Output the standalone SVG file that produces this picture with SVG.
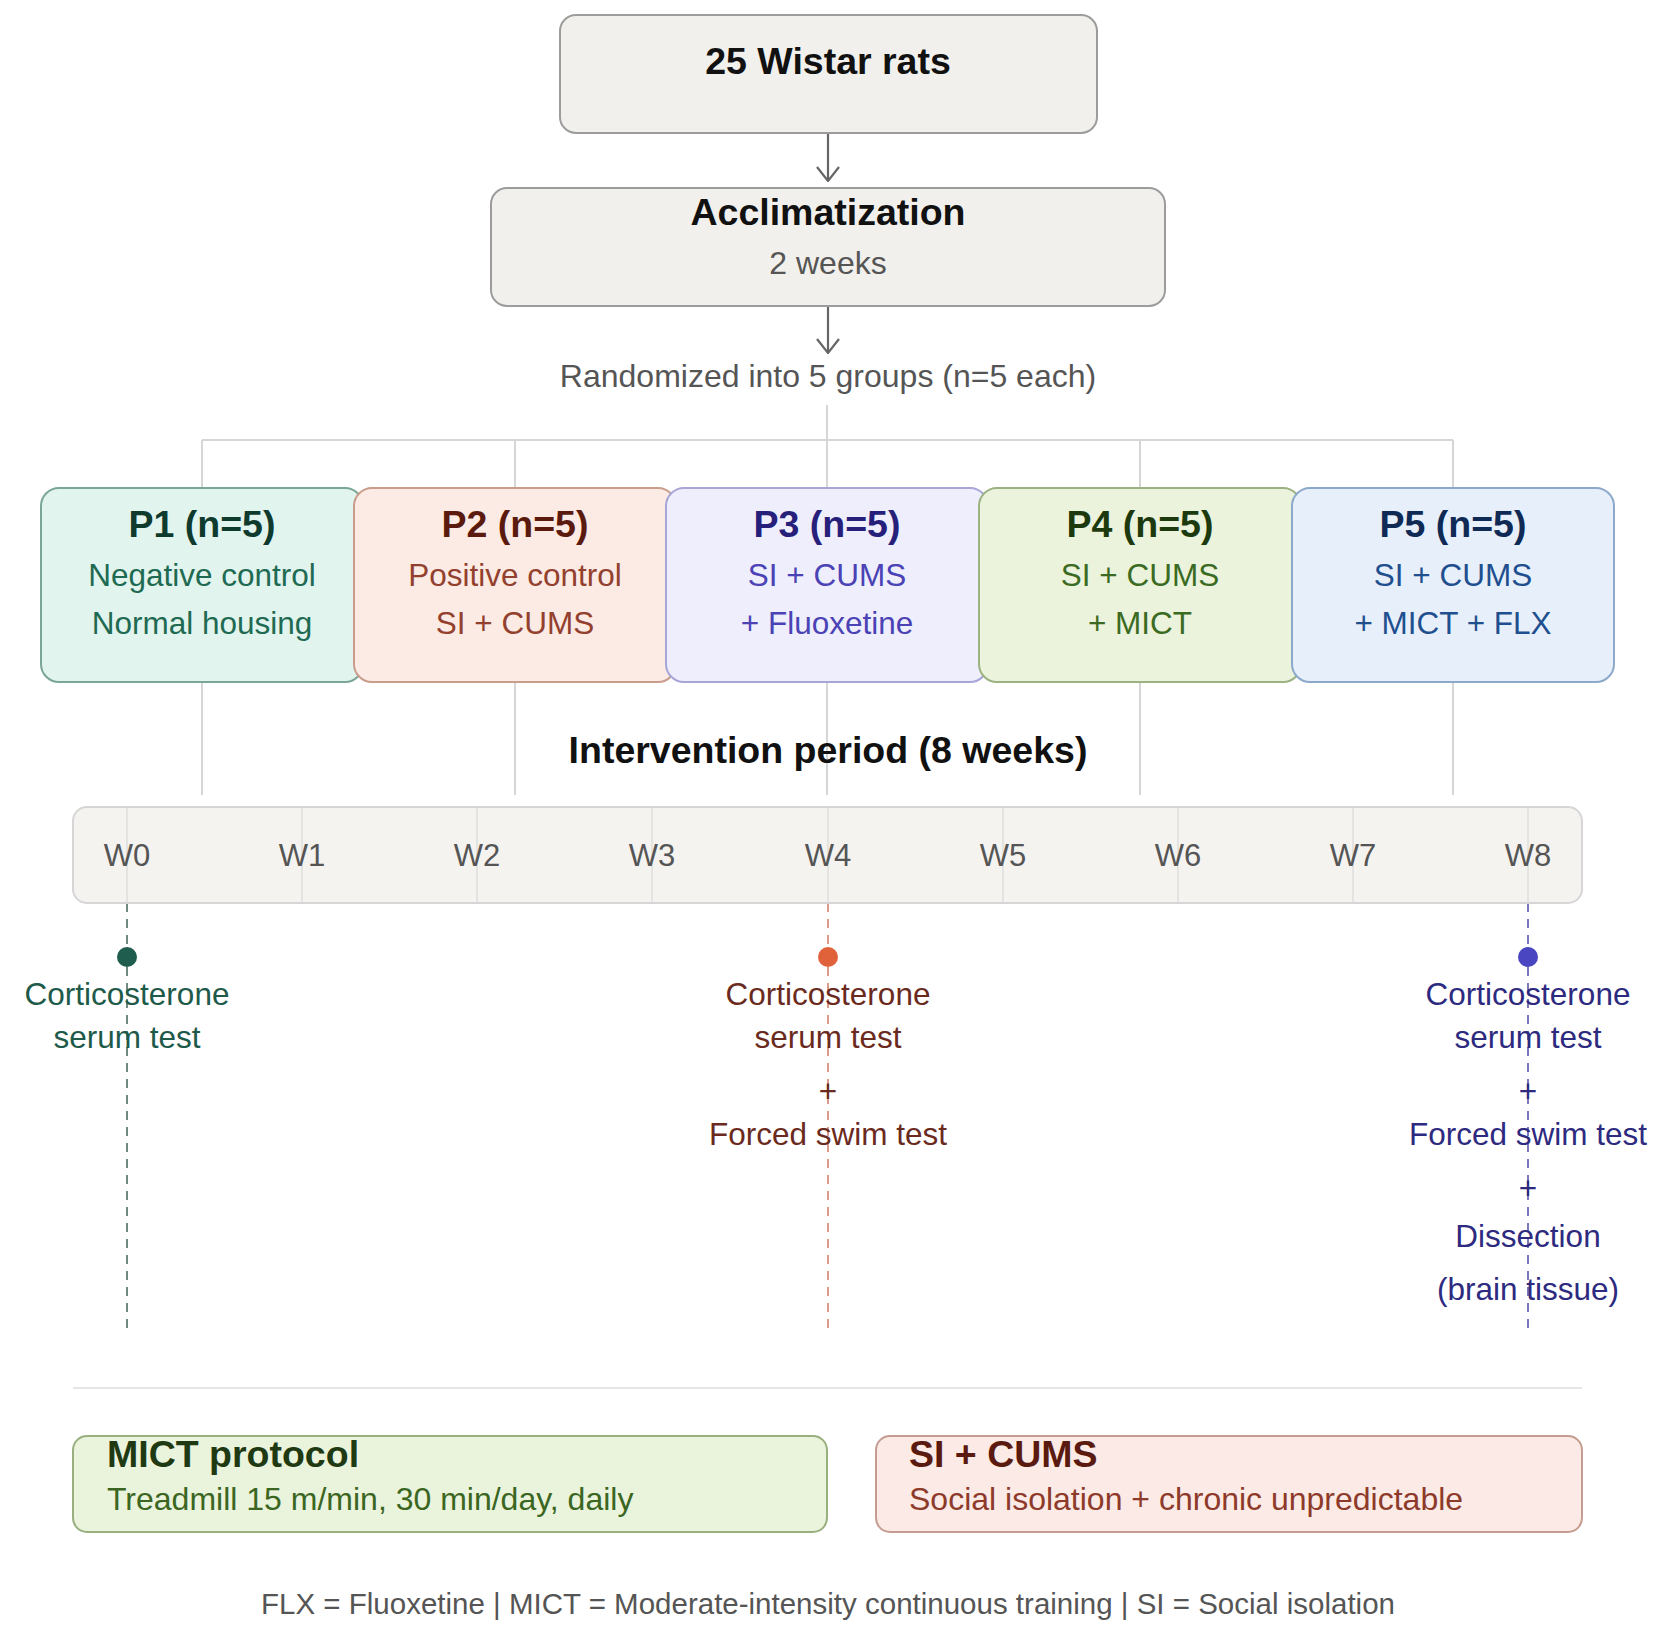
<svg xmlns="http://www.w3.org/2000/svg" width="1665" height="1629" viewBox="0 0 1665 1629">
<defs>
<style>
text{font-family:"Liberation Sans",Arial,sans-serif;}
.b{font-weight:bold;}
.c{text-anchor:middle;}
.h1{font-size:37.5px;font-weight:bold;fill:#111;}
.r{font-size:32px;}
.gray{fill:#555;}
.conn{stroke:#d6d6d6;stroke-width:2;fill:none;}
.arr{stroke:#666;stroke-width:2.2;fill:none;}
.gt{font-size:37.5px;font-weight:bold;text-anchor:middle;}
.gs{font-size:31.5px;text-anchor:middle;}
.tl{font-size:31px;text-anchor:middle;fill:#555;}
.tick{stroke:#dedede;stroke-width:1.5;}
.ev{font-size:31.5px;text-anchor:middle;}
</style>
<marker id="chev" viewBox="0 0 16 24" refX="15" refY="12" markerWidth="16" markerHeight="24" markerUnits="userSpaceOnUse" orient="auto">
<path d="M1,1 L15,12 L1,23" fill="none" stroke="#666" stroke-width="2.2"/>
</marker>
</defs>
<rect width="1665" height="1629" fill="#ffffff"/>

<g id="connectors">
<line class="arr" x1="828" y1="133" x2="828" y2="181" marker-end="url(#chev)"/>
<line class="arr" x1="828" y1="306" x2="828" y2="353" marker-end="url(#chev)"/>
<line class="conn" x1="827" y1="405" x2="827" y2="440"/>
<line class="conn" x1="202" y1="440" x2="1453" y2="440"/>
<line class="conn" x1="202" y1="440" x2="202" y2="488"/>
<line class="conn" x1="515" y1="440" x2="515" y2="488"/>
<line class="conn" x1="827" y1="440" x2="827" y2="488"/>
<line class="conn" x1="1140" y1="440" x2="1140" y2="488"/>
<line class="conn" x1="1453" y1="440" x2="1453" y2="488"/>
<line class="conn" x1="202" y1="682" x2="202" y2="795"/>
<line class="conn" x1="515" y1="682" x2="515" y2="795"/>
<line class="conn" x1="827" y1="682" x2="827" y2="795"/>
<line class="conn" x1="1140" y1="682" x2="1140" y2="795"/>
<line class="conn" x1="1453" y1="682" x2="1453" y2="795"/>
<line x1="127" y1="903" x2="127" y2="1328" stroke="#6f8a82" stroke-width="2" stroke-dasharray="9 7"/>
<line x1="828" y1="903" x2="828" y2="1328" stroke="#dc9a8c" stroke-width="2" stroke-dasharray="9 7"/>
<line x1="1528" y1="903" x2="1528" y2="1328" stroke="#7a78b8" stroke-width="2" stroke-dasharray="9 7"/>
</g>

<g id="n-start">
<rect x="560" y="15" width="537" height="118" rx="16" fill="#f2f0ec" stroke="#9c9c9c" stroke-width="2"/>
<text class="h1 c" x="828" y="74">25 Wistar rats</text>
</g>

<g id="n-acclim">
<rect x="491" y="188" width="674" height="118" rx="16" fill="#f2f0ec" stroke="#9c9c9c" stroke-width="2"/>
<text class="h1 c" x="828" y="225">Acclimatization</text>
<text class="r c gray" x="828" y="274">2 weeks</text>
</g>

<g id="n-random">
<text class="r c gray" x="828" y="387">Randomized into 5 groups (n=5 each)</text>
</g>

<g id="n-p1">
<rect x="41" y="488" width="322" height="194" rx="18" fill="#e2f4ee" stroke="#7aa696" stroke-width="2"/>
<text class="gt" x="202" y="537" fill="#0e3b2e">P1 (n=5)</text>
<text class="gs" x="202" y="586" fill="#1e6a52">Negative control</text>
<text class="gs" x="202" y="634" fill="#1e6a52">Normal housing</text>
</g>
<g id="n-p2">
<rect x="354" y="488" width="322" height="194" rx="18" fill="#fbebe4" stroke="#c99c8c" stroke-width="2"/>
<text class="gt" x="515" y="537" fill="#5b1a0e">P2 (n=5)</text>
<text class="gs" x="515" y="586" fill="#93402e">Positive control</text>
<text class="gs" x="515" y="634" fill="#93402e">SI + CUMS</text>
</g>
<g id="n-p3">
<rect x="666" y="488" width="322" height="194" rx="18" fill="#eeeefc" stroke="#a8a5d8" stroke-width="2"/>
<text class="gt" x="827" y="537" fill="#27207a">P3 (n=5)</text>
<text class="gs" x="827" y="586" fill="#4b42b5">SI + CUMS</text>
<text class="gs" x="827" y="634" fill="#4b42b5">+ Fluoxetine</text>
</g>
<g id="n-p4">
<rect x="979" y="488" width="322" height="194" rx="18" fill="#ebf3dd" stroke="#9db282" stroke-width="2"/>
<text class="gt" x="1140" y="537" fill="#1d3a0f">P4 (n=5)</text>
<text class="gs" x="1140" y="586" fill="#3b6b22">SI + CUMS</text>
<text class="gs" x="1140" y="634" fill="#3b6b22">+ MICT</text>
</g>
<g id="n-p5">
<rect x="1292" y="488" width="322" height="194" rx="18" fill="#e7f0fa" stroke="#8ca8ca" stroke-width="2"/>
<text class="gt" x="1453" y="537" fill="#0f2a55">P5 (n=5)</text>
<text class="gs" x="1453" y="586" fill="#1f4f8f">SI + CUMS</text>
<text class="gs" x="1453" y="634" fill="#1f4f8f">+ MICT + FLX</text>
</g>

<g id="n-intervention">
<text class="h1 c" x="828" y="763">Intervention period (8 weeks)</text>
</g>

<g id="n-timeline">
<rect x="73" y="807" width="1509" height="96" rx="14" fill="#f4f3f0" stroke="#d6d6d6" stroke-width="2"/>
<line class="tick" x1="127" y1="808" x2="127" y2="902"/>
<line class="tick" x1="302" y1="808" x2="302" y2="902"/>
<line class="tick" x1="477" y1="808" x2="477" y2="902"/>
<line class="tick" x1="652" y1="808" x2="652" y2="902"/>
<line class="tick" x1="828" y1="808" x2="828" y2="902"/>
<line class="tick" x1="1003" y1="808" x2="1003" y2="902"/>
<line class="tick" x1="1178" y1="808" x2="1178" y2="902"/>
<line class="tick" x1="1353" y1="808" x2="1353" y2="902"/>
<line class="tick" x1="1528" y1="808" x2="1528" y2="902"/>
<text class="tl" x="127" y="866">W0</text>
<text class="tl" x="302" y="866">W1</text>
<text class="tl" x="477" y="866">W2</text>
<text class="tl" x="652" y="866">W3</text>
<text class="tl" x="828" y="866">W4</text>
<text class="tl" x="1003" y="866">W5</text>
<text class="tl" x="1178" y="866">W6</text>
<text class="tl" x="1353" y="866">W7</text>
<text class="tl" x="1528" y="866">W8</text>
</g>

<g id="n-w0">
<circle cx="127" cy="957" r="10" fill="#1f5e4e"/>
<text class="ev" x="127" y="1005" fill="#1e5a4a">Corticosterone</text>
<text class="ev" x="127" y="1048" fill="#1e5a4a">serum test</text>
</g>
<g id="n-w4">
<circle cx="828" cy="957" r="10" fill="#e0623a"/>
<text class="ev" x="828" y="1005" fill="#6b2a1e">Corticosterone</text>
<text class="ev" x="828" y="1048" fill="#6b2a1e">serum test</text>
<text class="ev" x="828" y="1102" fill="#6b2a1e">+</text>
<text class="ev" x="828" y="1145" fill="#6b2a1e">Forced swim test</text>
</g>
<g id="n-w8">
<circle cx="1528" cy="957" r="10" fill="#4a45c0"/>
<text class="ev" x="1528" y="1005" fill="#2d2a80">Corticosterone</text>
<text class="ev" x="1528" y="1048" fill="#2d2a80">serum test</text>
<text class="ev" x="1528" y="1102" fill="#2d2a80">+</text>
<text class="ev" x="1528" y="1145" fill="#2d2a80">Forced swim test</text>
<text class="ev" x="1528" y="1199" fill="#2d2a80">+</text>
<text class="ev" x="1528" y="1247" fill="#2d2a80">Dissection</text>
<text class="ev" x="1528" y="1300" fill="#2d2a80">(brain tissue)</text>
</g>

<line x1="73" y1="1388" x2="1582" y2="1388" stroke="#e6e6e6" stroke-width="2"/>

<g id="n-mict">
<rect x="73" y="1436" width="754" height="96" rx="14" fill="#eaf3dc" stroke="#9aaf80" stroke-width="2"/>
<text class="b" x="107" y="1467" font-size="37.5" fill="#1f3a12">MICT protocol</text>
<text x="107" y="1510" font-size="32" fill="#3b6622">Treadmill 15 m/min, 30 min/day, daily</text>
</g>
<g id="n-cums">
<rect x="876" y="1436" width="706" height="96" rx="14" fill="#fbeae5" stroke="#c59c90" stroke-width="2"/>
<text class="b" x="909" y="1467" font-size="37.5" fill="#5a1a10">SI + CUMS</text>
<text x="909" y="1510" font-size="32" fill="#8e3a2a">Social isolation + chronic unpredictable</text>
</g>

<g id="n-footer">
<text class="c gray" x="828" y="1614" font-size="29.5">FLX = Fluoxetine | MICT = Moderate-intensity continuous training | SI = Social isolation</text>
</g>
</svg>
